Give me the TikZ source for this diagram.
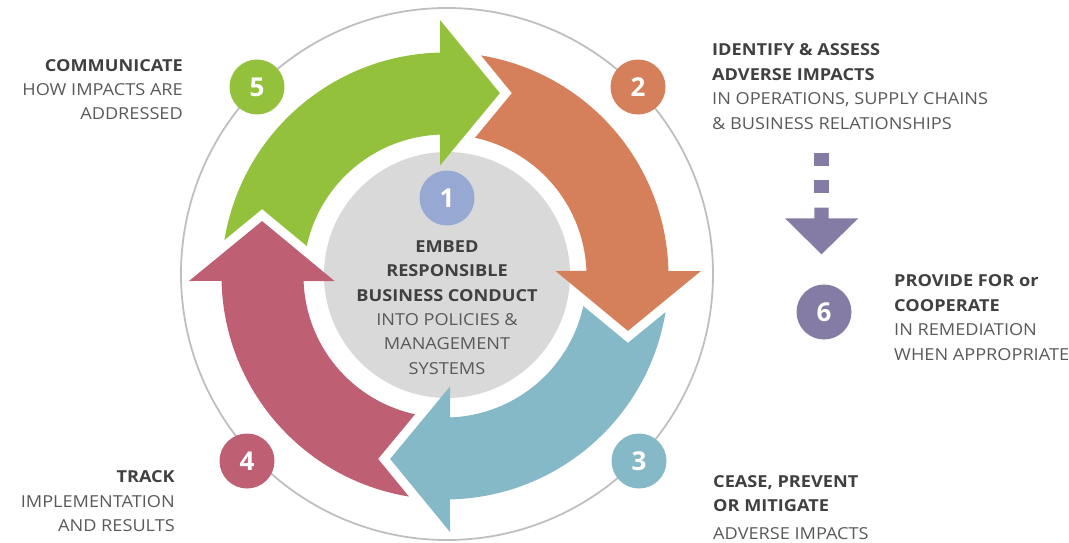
\documentclass[tikz,border=0pt]{standalone}
\usepackage{fontspec}
\setmainfont{Open Sans}[FakeStretch=1.1]
\newfontfamily\numfont{Open Sans}
\definecolor{cgreen}{RGB}{147,193,60}
\definecolor{corange}{RGB}{213,128,91}
\definecolor{cteal}{RGB}{134,185,199}
\definecolor{cpink}{RGB}{190,95,116}
\definecolor{cblue}{RGB}{151,168,211}
\definecolor{cpurple}{RGB}{133,124,166}
\definecolor{diskgray}{RGB}{217,217,217}
\definecolor{ringgray}{RGB}{191,191,191}
\definecolor{tbold}{RGB}{64,64,64}
\definecolor{tnorm}{RGB}{89,89,89}
\tikzset{
  numc/.style={circle, minimum size=55pt, inner sep=0pt, text=white,
    font=\numfont\fontsize{26}{26}\selectfont\bfseries},
  lbl/.style={inner sep=0pt, text=tnorm, font=\fontsize{16.5}{24.4}\selectfont}
}
\newcommand{\hb}[1]{\textcolor{tbold}{\textbf{#1}}}
\begin{document}
\begin{tikzpicture}[x=1pt,y=-1pt]
\useasboundingbox (0,0) rectangle (1069,543);
% outer ring and inner disk
\node[circle, draw=ringgray, line width=1.8pt, minimum size=532pt, inner sep=0pt] (ring) at (447,274) {};
\node[circle, fill=diskgray, minimum size=246pt, inner sep=0pt] (disk) at (447,275) {};
% four curved block arrows
\begin{scope}[shift={(445,276)}, yscale=-1]
  \foreach \rot/\col in {0/cgreen, -90/cpink, -180/cteal, -270/corange}{
    \fill[\col, rotate=\rot] (170.72:223.5)
      arc[start angle=170.72, end angle=91.28, radius=223.5]
      -- (-5,256) -- (54.9,182.9) -- (-5,110.5) -- (92.03:141.5)
      arc[start angle=92.03, end angle=167.76, radius=141.5]
      -- (-182.9,66.9) -- cycle;
  }
\end{scope}
% numbered circles
\node[numc, fill=cblue]   (n1) at (447,198) {1};
\node[numc, fill=corange] (n2) at (638,87)  {2};
\node[numc, fill=cteal]   (n3) at (639,461) {3};
\node[numc, fill=cpink]   (n4) at (247,461) {4};
\node[numc, fill=cgreen]  (n5) at (257,87)  {5};
\node[numc, fill=cpurple] (n6) at (824,312) {6};
% dashed block arrow towards 6
\fill[cpurple] (814.3,152.7) rectangle (828.7,166);
\fill[cpurple] (814.3,180) rectangle (828.7,193.3);
\fill[cpurple] (814.3,207.7) -- (814.3,218.3) -- (785,218.3) -- (821.5,254.3)
  -- (858.3,218.3) -- (828.7,218.3) -- (828.7,207.7) -- cycle;
% texts (anchor = baseline of the last line)
\node[lbl, anchor=base, align=center] (t1) at (447,374.3)
  {\hb{EMBED}\\\hb{RESPONSIBLE}\\\hb{BUSINESS CONDUCT}\\INTO POLICIES \&\\MANAGEMENT\\SYSTEMS};
\node[lbl, anchor=base west, align=left] (t2) at (712,129)
  {\hb{IDENTIFY \& ASSESS}\\\hb{ADVERSE IMPACTS}\\IN OPERATIONS, SUPPLY CHAINS\\\& BUSINESS RELATIONSHIPS};
\node[lbl, anchor=base west, align=left] (t3) at (713,539.3)
  {\hb{CEASE, PREVENT}\\\hb{OR MITIGATE}\\[3pt]ADVERSE IMPACTS};
\node[lbl, anchor=base east, align=right] (t4) at (175,531.7)
  {\hb{TRACK}\\IMPLEMENTATION\\AND RESULTS};
\node[lbl, anchor=base east, align=right] (t5) at (183,120)
  {\hb{COMMUNICATE}\\HOW IMPACTS ARE\\ADDRESSED};
\node[lbl, anchor=base west, align=left] (t6) at (894,360)
  {\hb{PROVIDE FOR or}\\\hb{COOPERATE}\\IN REMEDIATION\\WHEN APPROPRIATE};
\end{tikzpicture}
\end{document}
